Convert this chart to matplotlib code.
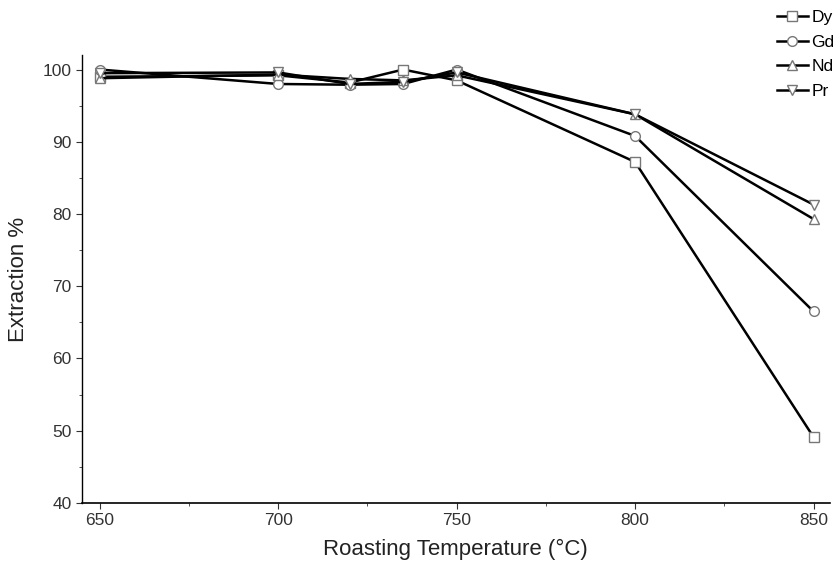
import matplotlib
matplotlib.use("Agg")
import matplotlib.pyplot as plt
from matplotlib.ticker import MultipleLocator

plt.rcParams['font.family'] = ['Liberation Sans', 'DejaVu Sans']

temps = [650, 700, 720, 735, 750, 800, 850]
dy = [99.0, 99.2, 98.2, 100.0, 98.5, 87.2, 49.1]
gd = [100.0, 98.0, 97.9, 98.0, 100.0, 90.8, 66.5]
nd = [98.8, 99.3, 98.7, 98.5, 99.2, 93.8, 79.3]
pr = [99.5, 99.6, 98.0, 98.3, 99.6, 93.8, 81.3]

series = [("Dy", dy, "s"), ("Gd", gd, "o"), ("Nd", nd, "^"), ("Pr", pr, "v")]

fig = plt.figure(figsize=(8.4, 5.74), dpi=100)
ax = fig.add_axes([0.0976, 0.124, 0.89, 0.78])

for name, vals, mk in series:
    ax.plot(temps, vals, color="black", lw=1.8, marker=mk, markersize=7,
            markerfacecolor="white", markeredgecolor="#777777", markeredgewidth=1.0,
            label=name)

ax.set_xlim(645, 854.5)
ax.set_ylim(40, 102)
ax.set_xticks([650, 700, 750, 800, 850])
ax.set_yticks([40, 50, 60, 70, 80, 90, 100])
ax.xaxis.set_minor_locator(MultipleLocator(25))
ax.yaxis.set_minor_locator(MultipleLocator(5))
ax.tick_params(which="both", direction="out", labelsize=12.5, colors="#333333")
ax.tick_params(which="major", length=4)
ax.tick_params(which="minor", length=2)
ax.spines["top"].set_visible(False)
ax.spines["right"].set_visible(False)
ax.spines["left"].set_linewidth(1.0)
ax.spines["bottom"].set_linewidth(1.2)

ax.set_xlabel("Roasting Temperature (°C)", fontsize=16, color="#222222", labelpad=8)
ax.set_ylabel("Extraction %", fontsize=16, color="#222222", labelpad=10)

fig.legend(loc="upper right", bbox_to_anchor=(1.012, 1.01), frameon=False, fontsize=12.5,
           handlelength=1.8, handletextpad=0.2, labelspacing=0.55)

plt.savefig("out.png", dpi=100)
